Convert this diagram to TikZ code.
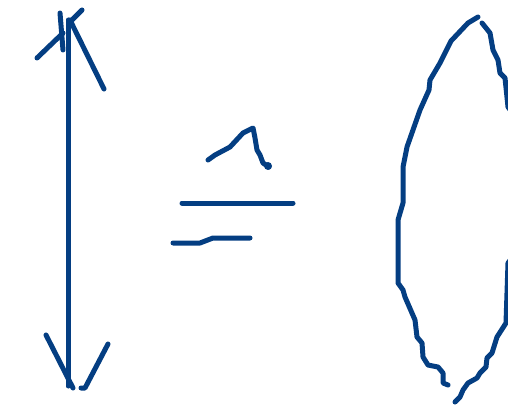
\documentclass[tikz,border=0pt]{standalone}
\usepackage{xcolor}
\usepackage{tikz}
\definecolor{inkblue}{RGB}{4,62,130}

\begin{document}
\begin{tikzpicture}[x=1pt,y=-1pt,
		pen/.style={draw=inkblue, line width=5pt, line cap=round, line join=round}]
				\clip (0,0) rectangle (508,406);
				
				% double arrow
				\coordinate (top) at (68,20);
				\coordinate (bot) at (68,386);
				\draw[pen] (top) -- (bot);
				\draw[pen] (60,13) -- (63,50);
				\draw[pen] (37,58) -- (63,33);
				\draw[pen] (82,10) -- (69,23);
				\draw[pen] (70,20) -- (104,89);
				\draw[pen] (46,335) -- (73,388);
				\draw[pen] (108,344) -- (85,388) -- (81,388);
				
				% hat equals
				\draw[pen] (208,160) -- (215,155) -- (230,147) -- (243,133) -- (253,128) -- (255,138) -- (257,150) -- (260,155) -- (263,163) -- (269,167);
				\fill[inkblue] (268,166) circle (4pt);
				\draw[pen] (182,203) -- (293,203);
				\draw[pen] (173,243) -- (200,243) -- (213,238) -- (250,238);
				
				% lens
				\draw[pen] (478,17) -- (468,23) -- (451,41) -- (440,63) -- (430,80) -- (429,90) -- (420,110) -- (407,147) -- (403,167) -- (403,203) -- (398,220) -- (398,283) -- (403,290) -- (405,297) -- (415,320) -- (417,337) -- (422,343) -- (423,357) -- (428,365) -- (438,367) -- (443,373) -- (443,383) -- (448,385);
				\draw[pen] (482,23) -- (490,33) -- (493,50) -- (498,60) -- (500,73) -- (505,78) -- (508,107) -- (514,115);
				\draw[pen] (514,255) -- (508,263) -- (506,323) -- (497,337) -- (492,353) -- (487,358) -- (486,367) -- (480,373) -- (477,378) -- (468,383) -- (463,390) -- (460,397) -- (455,402);
			\end{tikzpicture}
\end{document}
